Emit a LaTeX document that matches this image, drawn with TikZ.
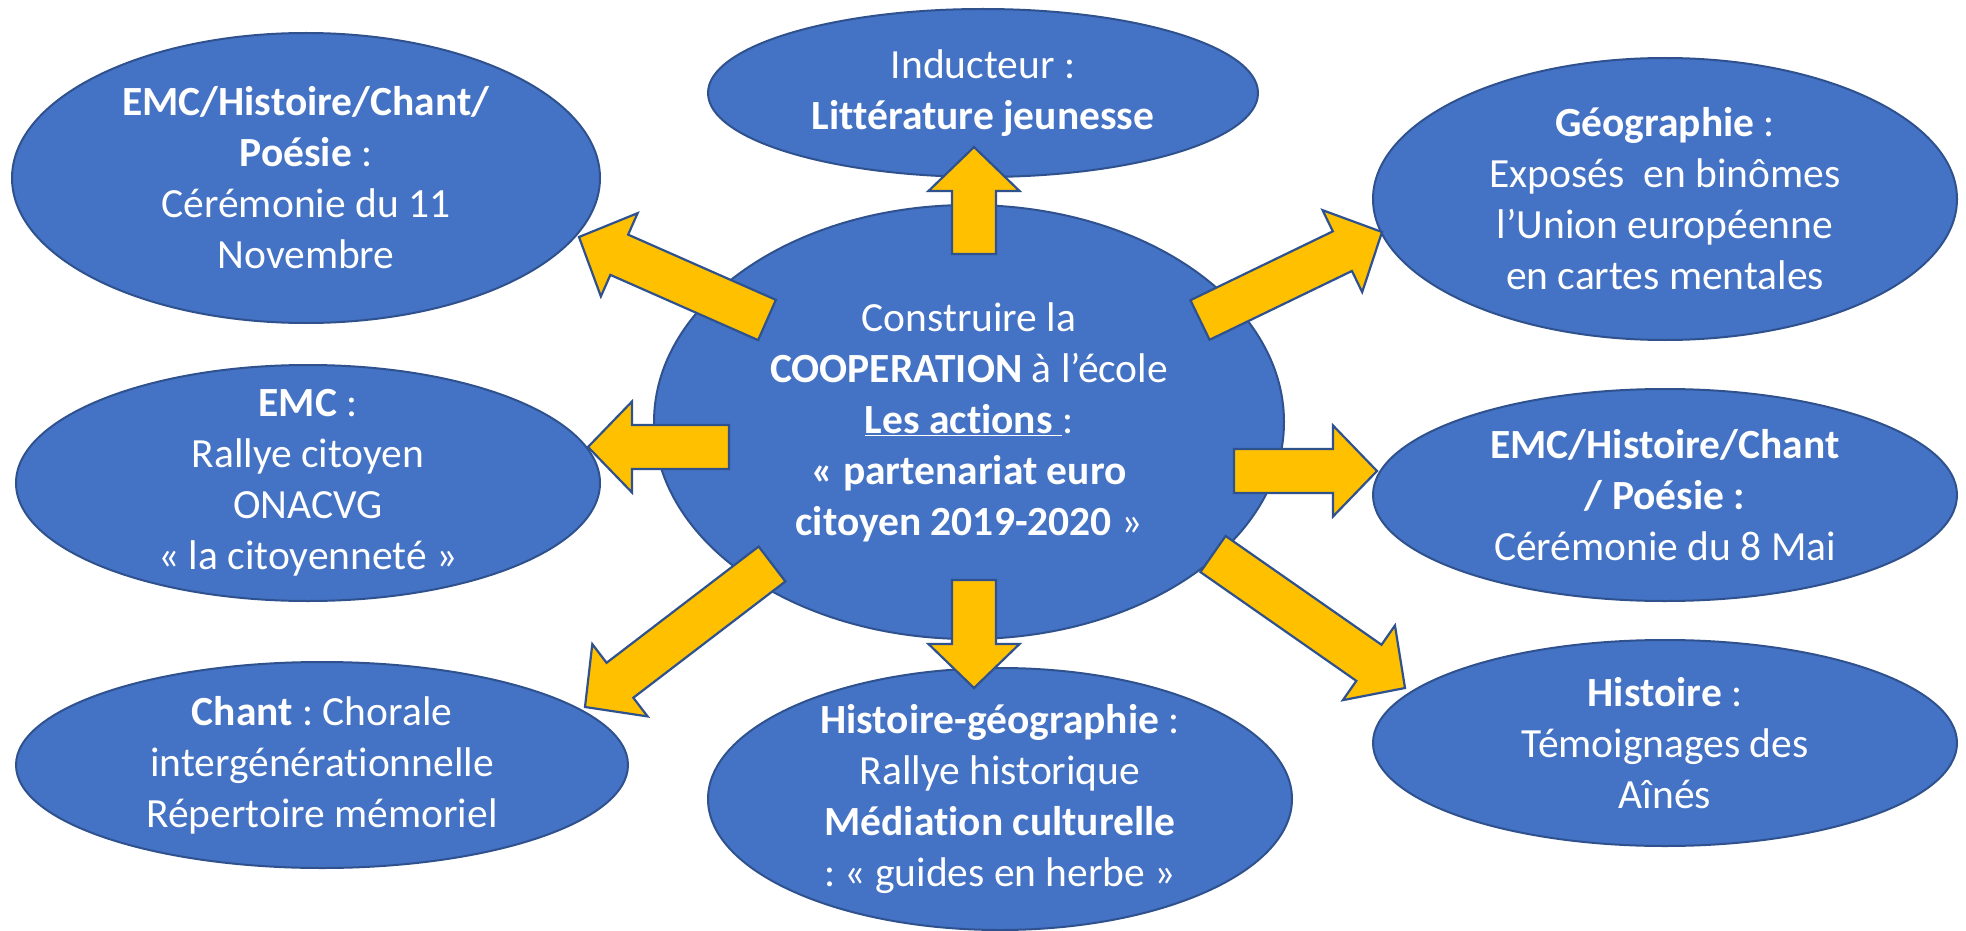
\documentclass[tikz,border=0pt]{standalone}
\usepackage{fontspec}
\setmainfont{Carlito}[Ligatures=NoCommon]
\usetikzlibrary{shapes.geometric,calc}
\definecolor{ellfill}{HTML}{4472C4}
\definecolor{ellline}{HTML}{2F528F}
\definecolor{arrfill}{HTML}{FFC000}
\frenchspacing
\newcommand{\blockarr}[2]{%
  \coordinate (hb) at ($(#2)!44pt!(#1)$);
  \draw[barrow] ($(#1)!22pt!90:(#2)$) -- ($(hb)!22pt!90:(#2)$) -- ($(hb)!45.5pt!90:(#2)$) -- (#2)
    -- ($(hb)!45.5pt!-90:(#2)$) -- ($(hb)!22pt!-90:(#2)$) -- ($(#1)!22pt!-90:(#2)$) -- cycle;
}
\begin{document}
\begin{tikzpicture}[x=1pt,y=-1pt,
  ell/.style={ellipse, draw=ellline, fill=ellfill, line width=2pt, inner sep=0pt},
  lbl/.style={text=white, align=center, inner sep=0pt, font=\fontsize{41.5}{51}\selectfont\frenchspacing},
  barrow/.style={draw=ellline, fill=arrfill, line width=2.2pt, line join=miter}]
\useasboundingbox (0,0) rectangle (1966,931);
\fill[white] (0,0) rectangle (1966,931);
% ellipses
\node[ell, minimum width=588pt, minimum height=290pt] (e1) at (306,178) {};
\node[ell, minimum width=550pt, minimum height=168pt] (e2) at (983,93) {};
\node[ell, minimum width=584pt, minimum height=282pt] (e3) at (1665,199) {};
\node[ell, minimum width=584pt, minimum height=236pt] (e5) at (308,483) {};
\node[ell, minimum width=584pt, minimum height=212pt] (e6) at (1665,495) {};
\node[ell, minimum width=612pt, minimum height=206pt] (e7) at (322,765) {};
\node[ell, minimum width=584pt, minimum height=262pt] (e8) at (1000,799) {};
\node[ell, minimum width=584pt, minimum height=206pt] (e9) at (1665,743) {};
\node[ell, minimum width=630pt, minimum height=434pt] (e4) at (969,422) {};
% arrow end points
\coordinate (aU0) at (974,254);  \coordinate (aU1) at (974,147);
\coordinate (aD0) at (974,580);  \coordinate (aD1) at (974,688);
\coordinate (aL0) at (729,447);  \coordinate (aL1) at (588,447);
\coordinate (aR0) at (1234,471); \coordinate (aR1) at (1377,471);
\coordinate (aUL0) at (767,320); \coordinate (aUL1) at (579,237);
\coordinate (aUR0) at (1200,320);\coordinate (aUR1) at (1382,232);
\coordinate (aDL0) at (772,564); \coordinate (aDL1) at (585,707);
\coordinate (aDR0) at (1213,554);\coordinate (aDR1) at (1405,688);
\blockarr{aU0}{aU1}
\blockarr{aD0}{aD1}
\blockarr{aL0}{aL1}
\blockarr{aR0}{aR1}
\blockarr{aUL0}{aUL1}
\blockarr{aUR0}{aUR1}
\blockarr{aDL0}{aDL1}
\blockarr{aDR0}{aDR1}
% texts
\node[lbl] (t1) at (e1) {\textbf{EMC/Histoire/Chant/}\\\textbf{Poésie} :\\Cérémonie du 11\\Novembre};
\node[lbl] (t2) at (e2) {Inducteur :\\\textbf{Littérature jeunesse}};
\node[lbl] (t3) at (e3) {\textbf{Géographie} :\\Exposés~ en binômes\\l’Union européenne\\en cartes mentales};
\node[lbl] (t4) at (e4) {Construire la\\\textbf{COOPERATION} à l’école\\\underline{\textbf{Les actions }}:\\\textbf{« partenariat euro}\\\textbf{citoyen 2019-2020} »};
\node[lbl] (t5) at (e5) {\textbf{EMC} :\\Rallye citoyen\\ONACVG\\« la citoyenneté »};
\node[lbl] (t6) at (e6) {\textbf{EMC/Histoire/Chant}\\\textbf{/ Poésie :}\\Cérémonie du 8 Mai};
\node[lbl] (t7) at (e7) {\textbf{Chant} : Chorale\\intergénérationnelle\\Répertoire mémoriel};
\node[lbl] (t8) at (e8) {\textbf{Histoire-géographie} :\\Rallye historique\\\textbf{Médiation culturelle}\\: « guides en herbe »};
\node[lbl] (t9) at (e9) {\textbf{Histoire} :\\Témoignages des\\Aînés};
\end{tikzpicture}
\end{document}
